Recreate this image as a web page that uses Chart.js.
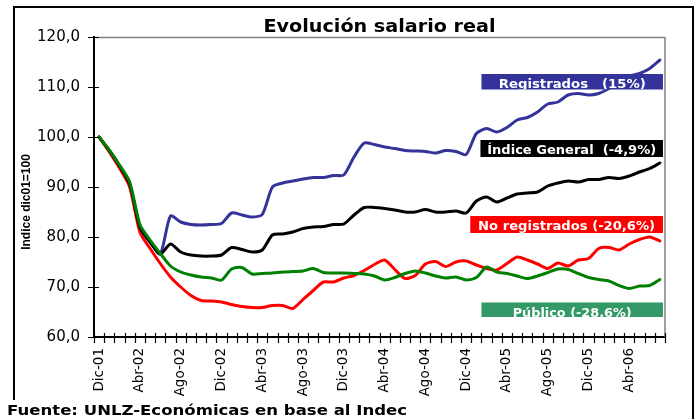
<!DOCTYPE html>
<html><head><meta charset="utf-8">
<script src="https://cdn.jsdelivr.net/npm/chart.js@4.4.1/dist/chart.umd.min.js"></script>
<style>html,body{margin:0;padding:0;background:#fff}#wrap{width:699px;height:419px;position:relative}</style>
</head><body><div id="wrap"><canvas id="c" width="699" height="419"></canvas></div>
<script>
const categories = ['Dic-01',
 'Ene-02','Feb-02','Mar-02','Abr-02','May-02','Jun-02','Jul-02','Ago-02','Sep-02','Oct-02','Nov-02','Dic-02',
 'Ene-03','Feb-03','Mar-03','Abr-03','May-03','Jun-03','Jul-03','Ago-03','Sep-03','Oct-03','Nov-03','Dic-03',
 'Ene-04','Feb-04','Mar-04','Abr-04','May-04','Jun-04','Jul-04','Ago-04','Sep-04','Oct-04','Nov-04','Dic-04',
 'Ene-05','Feb-05','Mar-05','Abr-05','May-05','Jun-05','Jul-05','Ago-05','Sep-05','Oct-05','Nov-05','Dic-05',
 'Ene-06','Feb-06','Mar-06','Abr-06','May-06','Jun-06','Jul-06'];
const xTickLabels = ['Dic-01','Abr-02','Ago-02','Dic-02','Abr-03','Ago-03','Dic-03','Abr-04','Ago-04','Dic-04','Abr-05','Ago-05','Dic-05','Abr-06'];
const yTicks = [60, 70, 80, 90, 100, 110, 120];
const yTickLabels = ['60,0','70,0','80,0','90,0','100,0','110,0','120,0'];

const registrados = [100, 97.3, 94.2, 90.6, 82.0, 79.0, 76.6, 84.2, 83.0, 82.5,
 82.4, 82.5, 82.7, 84.8, 84.4, 84.0, 84.5, 90.0, 90.8, 91.2,
 91.6, 91.9, 91.9, 92.3, 92.4, 96.0, 98.8, 98.5, 98.0, 97.7,
 97.3, 97.2, 97.1, 96.8, 97.3, 97.1, 96.5, 100.7, 101.7, 101.0,
 101.9, 103.4, 103.9, 105.0, 106.6, 107.0, 108.4, 108.7, 108.4, 108.7,
 109.7, 110.9, 112.2, 112.7, 113.7, 115.4];
const indiceGeneral = [100, 97.3, 94.2, 90.6, 82.0, 79.0, 76.6, 78.6, 77.0, 76.4,
 76.2, 76.2, 76.4, 77.9, 77.5, 77.0, 77.4, 80.4, 80.6, 81.0,
 81.7, 82.0, 82.1, 82.5, 82.6, 84.4, 85.9, 85.9, 85.7, 85.4,
 85.0, 85.0, 85.5, 85.0, 85.0, 85.2, 84.8, 87.2, 88.0, 87.0,
 87.8, 88.6, 88.8, 89.0, 90.2, 90.8, 91.2, 91.0, 91.5, 91.5,
 91.9, 91.7, 92.2, 93.0, 93.7, 94.8];
const noRegistrados = [100, 97.0, 93.8, 90.0, 81.0, 77.7, 74.7, 72.0, 70.0, 68.3,
 67.3, 67.2, 67.0, 66.5, 66.1, 65.9, 65.9, 66.3, 66.3, 65.7,
 67.5, 69.3, 71.0, 71.0, 71.8, 72.3, 73.3, 74.5, 75.4, 73.5,
 71.7, 72.3, 74.6, 75.1, 74.1, 75.0, 75.2, 74.4, 73.7, 73.4,
 74.7, 76.0, 75.4, 74.6, 73.7, 74.8, 74.2, 75.4, 75.7, 77.7,
 77.9, 77.4, 78.6, 79.5, 80.0, 79.2];
const publico = [100, 97.4, 94.4, 91.0, 82.5, 79.4, 76.7, 74.2, 73.0, 72.4,
 72.0, 71.8, 71.4, 73.6, 73.9, 72.6, 72.7, 72.8, 73.0, 73.1,
 73.2, 73.7, 72.9, 72.8, 72.8, 72.7, 72.6, 72.2, 71.4, 71.9,
 72.7, 73.2, 72.8, 72.2, 71.8, 72.0, 71.4, 71.9, 74.0, 73.0,
 72.7, 72.2, 71.7, 72.2, 72.9, 73.6, 73.5, 72.7, 71.9, 71.5,
 71.2, 70.3, 69.7, 70.2, 70.3, 71.5];

const chartTitle = 'Evolución salario real';
const yAxisTitle = 'Indice dic01=100';
const sourceNote = 'Fuente: UNLZ-Económicas en base al Indec';
const seriesNotes = ['Registrados   (15%)', 'Índice General  (-4,9%)', 'No registrados (-20,6%)', 'Público (-28.6%)'];

// placement of the note boxes, in axis units (category index, index value), and their text widths in px
const noteBoxes = [
  {x0: 37.5, x1: 55.3, yTop: 112.6, yBot: 109.5, bg: '#333399', base: 2,   w: 147},
  {x0: 37.4, x1: 55.3, yTop: 99.4,  yBot: 96.0,  bg: '#000000', base: 3.4, w: 169},
  {x0: 36.4, x1: 55.3, yTop: 84.2,  yBot: 80.8,  bg: '#FF0000', base: 3.4, w: 177},
  {x0: 37.5, x1: 55.3, yTop: 66.9,  yBot: 64.0,  bg: '#339966', base: 0.3, w: 119}
];

// draw text stretched horizontally so that it spans width w
function fitText(ctx, text, x, y, w, align) {
  const m = ctx.measureText(text).width;
  const sx = w / m;
  ctx.save();
  ctx.textAlign = 'left';
  let left = x;
  if (align === 'center') left = x - w / 2;
  ctx.translate(left, y);
  ctx.scale(sx, 1);
  ctx.fillText(text, 0, 0);
  ctx.restore();
}

const deco = {
  id: 'deco',
  beforeDraw(chart) {
    const c = chart.ctx; c.save(); c.fillStyle = '#fff'; c.fillRect(0, 0, chart.width, chart.height); c.restore();
  },
  beforeDatasetsDraw(chart) {
    const {ctx, chartArea: a} = chart;
    ctx.save(); ctx.strokeStyle = '#808080'; ctx.lineWidth = 1.5;
    ctx.beginPath(); ctx.moveTo(a.left, a.top + 0.5); ctx.lineTo(a.right, a.top + 0.5);
    ctx.moveTo(a.right, a.top); ctx.lineTo(a.right, a.bottom); ctx.stroke(); ctx.restore();
  },
  afterDatasetsDraw(chart) {
    const {ctx, chartArea: a, scales} = chart;
    const xs = scales.x, ys = scales.y;
    ctx.save();
    noteBoxes.forEach((b, i) => {
      const l = xs.getPixelForValue(b.x0), r = xs.getPixelForValue(b.x1);
      const t = ys.getPixelForValue(b.yTop), bt = ys.getPixelForValue(b.yBot);
      ctx.fillStyle = b.bg; ctx.fillRect(l, t, r - l, bt - t);
      ctx.save();
      ctx.beginPath(); ctx.rect(l, t, r - l, bt - t); ctx.clip();
      ctx.fillStyle = '#fff'; ctx.font = 'bold 12px "DejaVu Sans"';
      ctx.textBaseline = 'alphabetic';
      fitText(ctx, seriesNotes[i], (l + r) / 2, bt - b.base, b.w, 'center');
      ctx.restore();
    });
    ctx.strokeStyle = '#000'; ctx.lineWidth = 1.2;
    ctx.beginPath();
    for (let k = 0; k <= categories.length; k++) {
      const px = Math.round(xs.getPixelForValue(k - 0.5)) + 0.5;
      ctx.moveTo(px, a.bottom - 4); ctx.lineTo(px, a.bottom + 6);
    }
    yTicks.forEach(v => {
      const py = Math.round(ys.getPixelForValue(v)) + 0.5;
      ctx.moveTo(a.left - 6, py); ctx.lineTo(a.left + 5, py);
    });
    ctx.stroke();
    ctx.restore();
  },
  afterDraw(chart) {
    const {ctx, chartArea: a} = chart;
    ctx.save();
    ctx.strokeStyle = '#000'; ctx.lineWidth = 2;
    ctx.strokeRect(14, 7, 679, 440);
    ctx.fillStyle = '#000';
    ctx.textBaseline = 'alphabetic';
    ctx.font = 'bold 18px "DejaVu Sans"';
    fitText(ctx, chartTitle, (a.left + a.right) / 2, 32, 232, 'center');
    ctx.save();
    ctx.font = 'bold 12px "Liberation Sans"';
    ctx.translate(29.5, 202); ctx.rotate(-Math.PI / 2);
    ctx.textAlign = 'center';
    ctx.fillText(yAxisTitle, 0, 0);
    ctx.restore();
    ctx.fillStyle = '#fff'; ctx.fillRect(0, 400, 412, 19);
    ctx.fillStyle = '#000';
    ctx.font = 'bold 14px "DejaVu Sans"';
    fitText(ctx, sourceNote, 7, 415, 400, 'left');
    ctx.restore();
  }
};

const ds = (label, data, color) => ({
  label, data, borderColor: color, backgroundColor: color, borderWidth: 3,
  pointRadius: 0, pointHoverRadius: 0, tension: 0.25, fill: false,
  borderJoinStyle: 'round', borderCapStyle: 'round'
});

new Chart(document.getElementById('c'), {
  type: 'line',
  data: {
    labels: categories,
    datasets: [
      ds('Público', publico, '#008000'),
      ds('Índice General', indiceGeneral, '#000000'),
      ds('No registrados', noRegistrados, '#FF0000'),
      ds('Registrados', registrados, '#333399')
    ]
  },
  options: {
    responsive: false, animation: false, devicePixelRatio: 1,
    layout: {padding: {top: 37, right: 34, left: 0, bottom: 0}},
    plugins: {legend: {display: false}, title: {display: false}, tooltip: {enabled: false}},
    scales: {
      x: {
        type: 'category', offset: true,
        grid: {display: false, drawTicks: false, tickLength: 0, offset: true},
        border: {display: true, color: '#000', width: 2},
        ticks: {
          autoSkip: false, maxRotation: 90, minRotation: 90, padding: 11,
          color: '#000', font: {family: 'DejaVu Sans', size: 13.5},
          callback: function (v, i) { const l = categories[i]; return xTickLabels.includes(l) ? l : ''; }
        },
        afterFit(s) { s.height = 82; }
      },
      y: {
        min: 60, max: 120,
        grid: {display: false, drawTicks: false, tickLength: 0},
        border: {display: true, color: '#000', width: 2},
        ticks: {
          stepSize: 10, padding: 14, color: '#000', font: {family: 'DejaVu Sans', size: 15},
          callback: (v) => { const k = yTicks.indexOf(v); return k >= 0 ? yTickLabels[k] : ''; }
        },
        afterFit(s) { s.width = 94; }
      }
    }
  },
  plugins: [deco]
});
</script>
</body></html>
